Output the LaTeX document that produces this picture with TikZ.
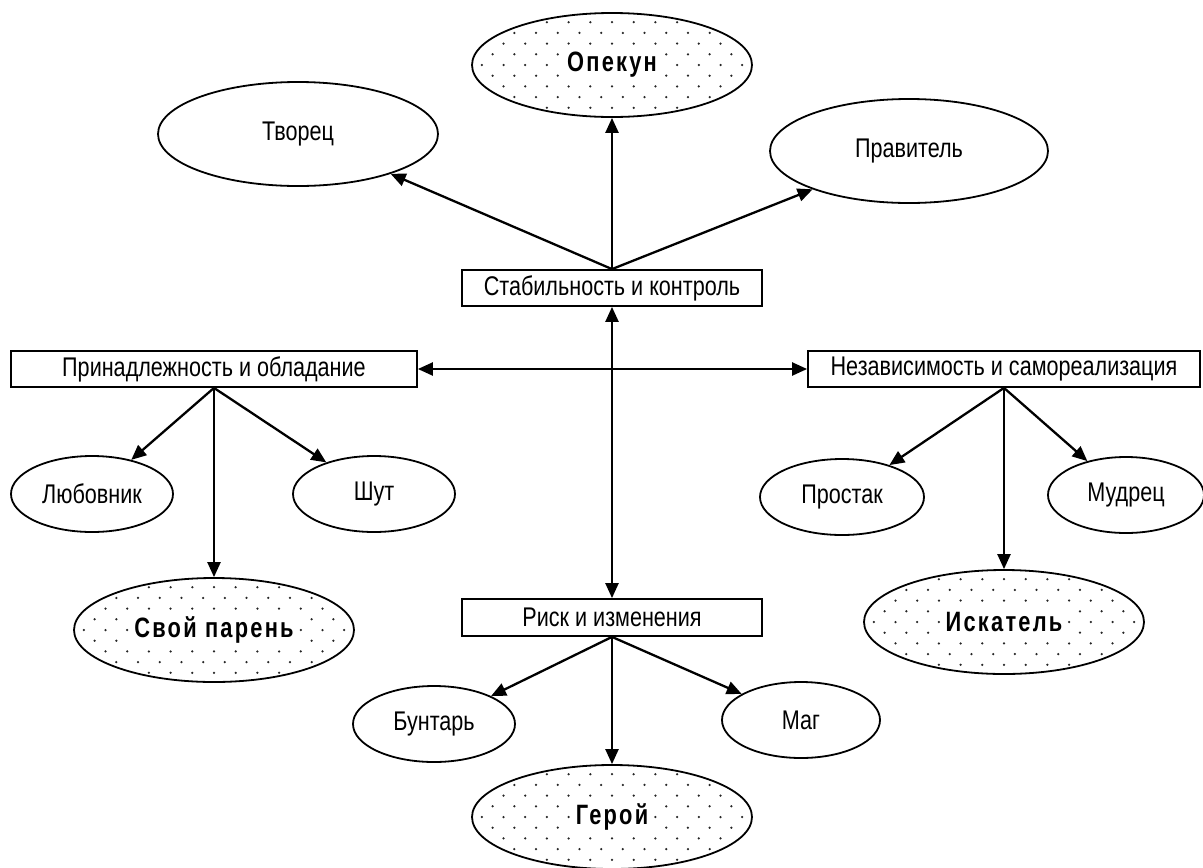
\documentclass[tikz,border=0pt]{standalone}
\usepackage{fontspec}
\setmainfont{Liberation Sans}[FakeStretch=0.8]
\newfontfamily\boldlbl{Liberation Sans}[FakeStretch=0.78,LetterSpace=8]
\usetikzlibrary{shapes.geometric,arrows.meta}
\tikzset{
  txt/.style={font=\fontsize{27}{30}\selectfont},
  dotfill/.style={path picture={
    \foreach \j in {-6,...,6}{
      \foreach \i in {-7,...,7}{
        \pgfmathsetmacro\dx{\i*21.7+mod(\j+6,2)*10.85}
        \pgfmathsetmacro\dy{\j*10.7}
        \fill[black!85] ([shift={(\dx,\dy)}]path picture bounding box.center) circle[radius=1.25pt];
      }
    }
  }},
  ell/.style={ellipse, draw, line width=1.8pt, inner sep=0pt, minimum width=160pt, minimum height=76pt, txt},
  bigell/.style={ellipse, draw, line width=1.8pt, inner sep=0pt, minimum width=280pt, minimum height=104pt, dotfill},
  catbox/.style={rectangle, draw, line width=1.8pt, minimum height=36pt, inner sep=0pt, txt},
  lbl/.style={fill=white, inner xsep=5pt, inner ysep=4pt, font=\boldlbl\bfseries\fontsize{28}{30}\selectfont},
  arr/.style={line width=2.3pt, -{Triangle[length=15pt,width=13pt]}},
  darr/.style={line width=2.3pt, {Triangle[length=15pt,width=13pt]}-{Triangle[length=15pt,width=13pt]}}
}
\begin{document}
\begin{tikzpicture}[x=1pt,y=-1pt]
\useasboundingbox (0,0) rectangle (1203,868);

% top group
\node[bigell] (opekun) at (612,65) {};
\node[lbl] (opekunT) at (opekun.center) {Опекун};
\node[ell, minimum width=280pt, minimum height=104pt] (tvorec) at (298,134) {Творец};
\node[ell, minimum width=278pt, minimum height=104pt] (pravitel) at (909,151) {Правитель};

% category boxes
\node[catbox, minimum width=300pt] (stab) at (612,288) {Стабильность и контроль};
\node[catbox, minimum width=406pt] (prin) at (214,369) {Принадлежность и обладание};
\node[catbox, minimum width=392pt] (nezav) at (1004,369) {Независимость и самореализация};
\node[catbox, minimum width=300pt, minimum height=37pt] (risk) at (612,617.5) {Риск и изменения};

% left group
\node[ell, minimum width=162pt] (lyub) at (92,494) {Любовник};
\node[ell, minimum width=162pt] (shut) at (374,494) {Шут};
\node[bigell] (svoy) at (214,630) {};
\node[lbl] (svoyT) at (svoy.center) {Свой парень};

% right group
\node[ell, minimum width=164pt] (prostak) at (842,497) {Простак};
\node[ell, minimum width=156pt] (mudrec) at (1126,495) {Мудрец};
\node[bigell] (iskatel) at (1004,622) {};
\node[lbl] (iskatelT) at (iskatel.center) {Искатель};

% bottom group
\node[ell, minimum width=162pt] (buntar) at (434,724) {Бунтарь};
\node[ell, minimum width=158pt] (mag) at (801,720) {Маг};
\node[bigell] (geroy) at (612,817) {};
\node[lbl] (geroyT) at (geroy.center) {Герой};

% connectors
\draw[arr] (stab.north) -- (tvorec);
\draw[arr] (stab.north) -- (opekun);
\draw[arr] (stab.north) -- (pravitel);
\draw[darr] (stab.south) -- (risk.north);
\draw[darr] (prin.east) -- (nezav.west);

\draw[arr] (prin.south) -- (lyub);
\draw[arr] (prin.south) -- (svoy);
\draw[arr] (prin.south) -- (shut);

\draw[arr] (nezav.south) -- (prostak);
\draw[arr] (nezav.south) -- (iskatel);
\draw[arr] (nezav.south) -- (mudrec);

\draw[arr] (risk.south) -- (buntar);
\draw[arr] (risk.south) -- (geroy);
\draw[arr] (risk.south) -- (mag);
\end{tikzpicture}
\end{document}
